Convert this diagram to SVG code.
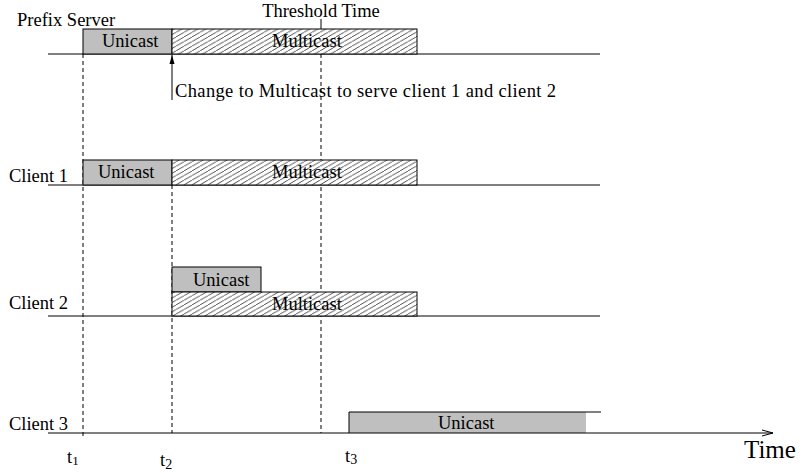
<svg xmlns="http://www.w3.org/2000/svg" width="805" height="473" viewBox="0 0 805 473">
<style>
text{font-family:"Liberation Serif","Times New Roman",serif;font-size:18.5px;fill:#000}
.mid{text-anchor:middle}
.axis{stroke:#000;stroke-width:1;fill:none}
.dash{stroke:#000;stroke-width:1;stroke-dasharray:4 3;fill:none}
.uni{fill:#bfbfbf;stroke:#000;stroke-width:1}
.multi{fill:url(#hatch);stroke:#000;stroke-width:1}
</style>
<defs>
<pattern id="hatch" patternUnits="userSpaceOnUse" width="8" height="4.62">
<rect width="8" height="4.62" fill="#fff"/>
<line x1="-8" y1="9.24" x2="16" y2="-4.62" stroke="#000" stroke-width="0.7"/>
</pattern>
<marker id="filled" markerWidth="10" markerHeight="6" refX="9" refY="3" orient="auto" markerUnits="userSpaceOnUse">
<path d="M0,0.5 L9,3 L0,5.5 Z" fill="#000"/>
</marker>
<marker id="open" markerWidth="12" markerHeight="8" refX="11" refY="4" orient="auto" markerUnits="userSpaceOnUse">
<path d="M0,1 L11,4 L0,7" fill="none" stroke="#000" stroke-width="1"/>
</marker>
</defs>
<rect width="805" height="473" fill="#fff"/>

<g id="guides">
<line class="dash" x1="83" y1="54" x2="83" y2="438"/>
<line class="dash" x1="172" y1="185" x2="172" y2="433"/>
<line class="dash" x1="321" y1="54" x2="321" y2="433"/>
<line class="axis" x1="321" y1="19" x2="321" y2="29"/>
</g>

<g id="prefix-server">
<line class="axis" x1="48" y1="54" x2="600" y2="54"/>
<rect class="uni" x="83" y="29" width="89" height="25"/>
<rect class="multi" x="172" y="29" width="245" height="25"/>
<text x="17" y="26">Prefix Server</text>
<text x="102" y="47">Unicast</text>
<text x="272" y="47">Multicast</text>
</g>

<g id="client-1">
<line class="axis" x1="48" y1="185" x2="600" y2="185"/>
<rect class="uni" x="83" y="160" width="89" height="25"/>
<rect class="multi" x="172" y="160" width="245" height="25"/>
<text x="9" y="182">Client 1</text>
<text x="98" y="178">Unicast</text>
<text x="272" y="178">Multicast</text>
</g>

<g id="client-2">
<line class="axis" x1="48" y1="316" x2="600" y2="316"/>
<rect class="uni" x="172" y="267" width="89" height="25"/>
<rect class="multi" x="172" y="292" width="245" height="24"/>
<text x="9" y="309">Client 2</text>
<text x="193" y="286">Unicast</text>
<text x="272" y="310">Multicast</text>
</g>

<g id="client-3">
<rect x="349" y="412" width="237" height="21" fill="#bfbfbf"/>
<path class="axis" d="M349,433 V412 H601"/>
<text x="9" y="430">Client 3</text>
<text x="438" y="429">Unicast</text>
</g>

<g id="connectors">
<line class="axis" x1="48" y1="433" x2="773" y2="433" marker-end="url(#open)"/>
<line class="axis" x1="172" y1="100" x2="172" y2="55" marker-end="url(#filled)"/>
</g>

<g id="labels">
<text x="321" y="17" class="mid">Threshold Time</text>
<text x="175" y="97" textLength="381" lengthAdjust="spacing">Change to Multicast to serve client 1 and client 2</text>
<text x="744" y="458" style="font-size:25px">Time</text>
<text x="67" y="463">t<tspan font-size="13" dy="2">1</tspan></text>
<text x="160" y="466">t<tspan font-size="14" dy="3">2</tspan></text>
<text x="345" y="462">t<tspan font-size="14" dy="2">3</tspan></text>
</g>
</svg>
